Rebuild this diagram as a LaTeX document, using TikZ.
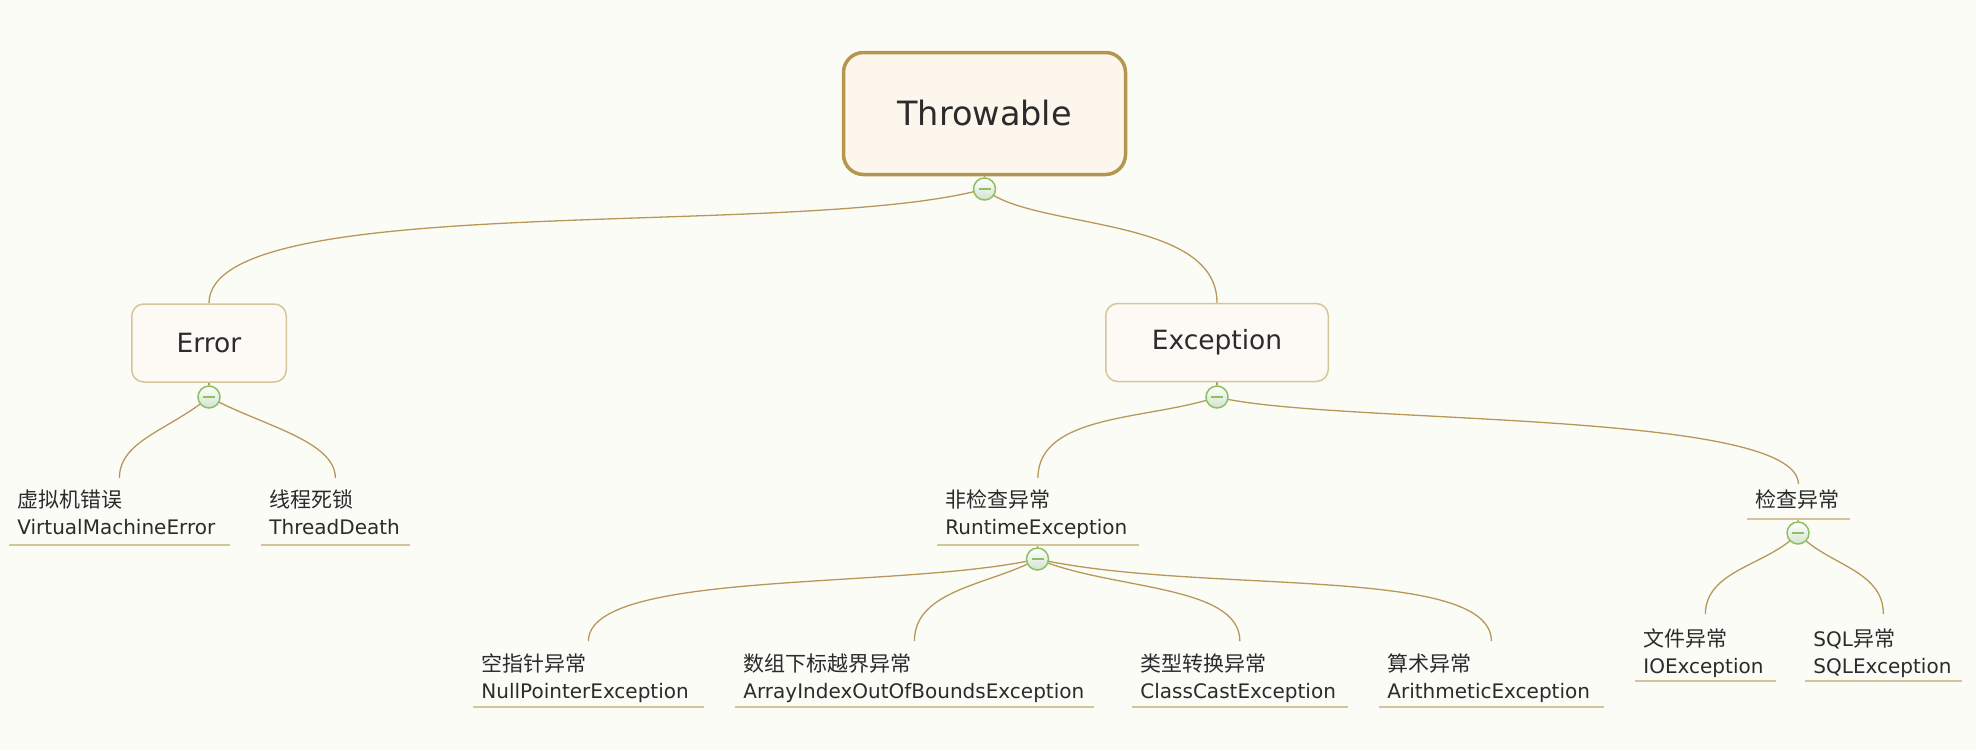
\documentclass[tikz,border=0pt]{standalone}
\usepackage{fontspec}
\setmainfont{DejaVu Sans}
\newfontfamily\cjk{Noto Sans CJK SC}[Scale=1.05]
\usetikzlibrary{calc}
\definecolor{bgc}{HTML}{FCFCF7}
\definecolor{rootb}{HTML}{B5964F}
\definecolor{rootf}{HTML}{FDF6EC}
\definecolor{mainb}{HTML}{D6C59C}
\definecolor{mainf}{HTML}{FDFAF6}
\definecolor{lnc}{HTML}{B8985A}
\definecolor{ulc}{HTML}{D3C49C}
\definecolor{grn}{HTML}{8DBF63}
\definecolor{grnf}{HTML}{D2E2CF}
\definecolor{txt}{HTML}{2B2B2B}
\pgfdeclarelayer{back}
\pgfdeclarelayer{bg}
\pgfsetlayers{back,bg,main}
\begin{document}
\begin{tikzpicture}[x=0.5pt,y=-0.5pt,
  conn/.style={draw=lnc, line width=0.65pt},
  rootbox/.style={draw=rootb, fill=rootf, line width=1.75pt, rounded corners=10pt,
    minimum width=141pt, minimum height=61pt, text=txt,
    font=\fontsize{16.75}{20}\selectfont},
  mainbox/.style={draw=mainb, fill=mainf, line width=0.75pt, rounded corners=6pt,
    minimum height=39pt, text=txt, font=\fontsize{13.25}{16}\selectfont},
  leaf/.style={anchor=south west, align=left, inner xsep=4pt, inner ysep=0pt,
    text=txt, font=\fontsize{10}{13.25}\selectfont},
  toprow/.style={leaf, text height=14.5pt, text depth=18.5pt},
  botrow/.style={leaf, text height=15pt, text depth=17.5pt},
  iorow/.style={leaf, text height=16pt, text depth=17pt},
  uline/.style={draw=ulc, line width=1.25pt},
  fold/.style={circle, draw=grn, line width=0.75pt, top color=white, bottom color=grnf,
    minimum size=11pt, inner sep=0pt,
    path picture={\draw[grn, line width=1.2pt]
      ([xshift=-3pt]path picture bounding box.center) --
      ([xshift=3pt]path picture bounding box.center);}}
]
\begin{pgfonlayer}{back}
  \fill[bgc] (0,0) rectangle (1976,750);
\end{pgfonlayer}
\useasboundingbox (0,0) rectangle (1976,750);

% main boxes
\node[rootbox] (thr) at (984.5,113.5) {Throwable};
\node[mainbox, minimum width=77.25pt] (err) at (209,343) {Error};
\node[mainbox, minimum width=111.25pt] (exc) at (1217,342.5) {Exception};

% leaves
\node[toprow, text width=102pt] (vm) at (9,545) {{\cjk 虚拟机错误}\\VirtualMachineError};
\node[toprow, text width=66pt] (td) at (261,545) {{\cjk 线程死锁}\\ThreadDeath};
\node[toprow, text width=92.5pt] (rt) at (937,545) {{\cjk 非检查异常}\\RuntimeException};
\node[leaf, text width=43pt, text height=11.5pt, text depth=5.5pt] (ck) at (1747,519) {{\cjk 检查异常}};
\node[botrow, text width=107pt] (np) at (473,707) {{\cjk 空指针异常}\\NullPointerException};
\node[botrow, text width=171pt] (ai) at (735,707) {{\cjk 数组下标越界异常}\\ArrayIndexOutOfBoundsException};
\node[botrow, text width=99.5pt] (cc) at (1132,707) {{\cjk 类型转换异常}\\ClassCastException};
\node[botrow, text width=104pt] (ar) at (1379,707) {{\cjk 算术异常}\\ArithmeticException};
\node[iorow, text width=62pt] (io) at (1635,681) {{\cjk 文件异常}\\IOException};
\node[iorow, text width=70pt] (sq) at (1805,681) {SQL{\cjk 异常}\\SQLException};

\foreach \n in {vm,td,rt,ck,np,ai,cc,ar,io,sq}
  \draw[uline] (\n.south west) -- (\n.south east);

% fold circles
\node[fold] (cthr) at (984.5,189) {};
\node[fold] (cerr) at (209,397) {};
\node[fold] (cexc) at (1217,397) {};
\node[fold] (crt) at (1037.5,559) {};
\node[fold] (cck) at (1798,533) {};

\begin{pgfonlayer}{bg}
  \draw[conn] (thr.south) -- (cthr.north);
  \draw[conn] (err.south) -- (cerr.north);
  \draw[conn] (exc.south) -- (cexc.north);
  \draw[conn] (rt.south) -- (crt.north);
  \draw[conn] (ck.south) -- (cck.north);

  \draw[conn] (cthr.center) .. controls +(-186,51) and +(0,-115) .. (err.north);
  \draw[conn] (cthr.center) .. controls +(46,41) and +(0,-88) .. (exc.north);

  \draw[conn] (cerr.center) .. controls +(-39,33) and +(0,-38) .. (vm.north);
  \draw[conn] (cerr.center) .. controls +(51,28) and +(0,-38) .. (td.north);

  \draw[conn] (cexc.center) .. controls +(-67,23) and +(0,-65) .. (rt.north);
  \draw[conn] (cexc.center) .. controls +(113,28) and +(0,-75) .. (ck.north);

  \draw[conn] (crt.center) .. controls +(-137,31) and +(0,-72) .. (np.north);
  \draw[conn] (crt.center) .. controls +(-47,26) and +(0,-52) .. (ai.north);
  \draw[conn] (crt.center) .. controls +(73,31) and +(0,-57) .. (cc.north);
  \draw[conn] (crt.center) .. controls +(163,36) and +(0,-77) .. (ar.north);

  \draw[conn] (cck.center) .. controls +(-28,32) and +(0,-45) .. (io.north);
  \draw[conn] (cck.center) .. controls +(28,32) and +(0,-45) .. (sq.north);
\end{pgfonlayer}
\end{tikzpicture}
\end{document}
